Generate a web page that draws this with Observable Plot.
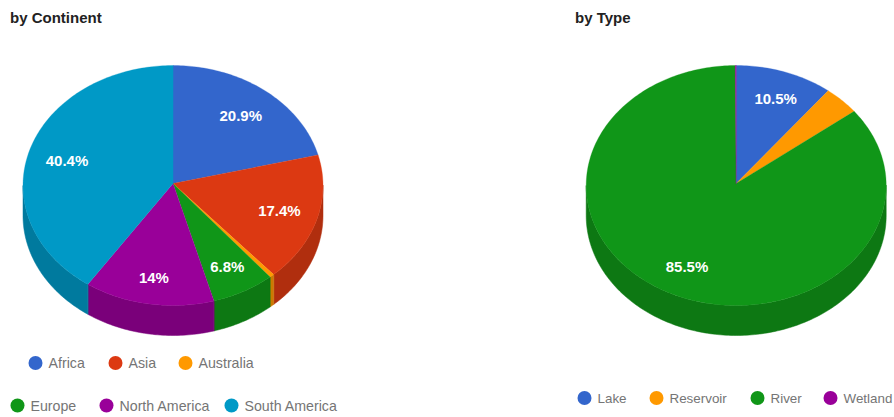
<!DOCTYPE html>
<html>
<head>
<meta charset="utf-8">
<script src="https://cdn.jsdelivr.net/npm/d3@7"></script>
<script src="https://cdn.jsdelivr.net/npm/@observablehq/plot@0.6"></script>
<style>
  html, body { margin: 0; padding: 0; background: #fff; }
  svg { display: block; }
</style>
</head>
<body>
<div id="chart"></div>
<script>
// Share of sites by continent
const continents = ["Africa", "Asia", "Australia", "Europe", "North America", "South America"];
const continentShares = [20.9, 17.4, 0.5, 6.8, 14, 40.4];
const continentColors = ["#3366cc", "#dc3912", "#ff9900", "#109618", "#990099", "#0099c6"];
const continentSides = ["#2952a3", "#b02e0e", "#cc7a00", "#0d7813", "#7a007a", "#007a9e"];
const continentLabels = ["20.9%", "17.4%", "", "6.8%", "14%", "40.4%"];
const continentNudgeX = [0, 0, 0, 2, -1, 0];
const continentNudgeY = [1, 0, 0, 3, 5, 2];

// Share of sites by type
const types = ["Lake", "Reservoir", "River", "Wetland"];
const typeShares = [10.5, 3.9, 85.5, 0.1];
const typeColors = ["#3366cc", "#ff9900", "#109618", "#990099"];
const typeSides = ["#2952a3", "#cc7a00", "#0d7813", "#7a007a"];
const typeLabels = ["10.5%", "", "85.5%", ""];
const typeNudgeX = [3.5, 0, -1, 0];
const typeNudgeY = [-2, 0, 2, 0];

// Legend layout: slot positions for each entry
const continentLegendX = [35, 115, 185, 17, 106, 231];
const continentLegendY = [362.5, 362.5, 362.5, 405, 405, 405];
const typeLegendX = [584, 656, 757, 830];
const typeLegendY = [397.5, 397.5, 397.5, 397.5];

// Pie geometry in the page's coordinate space
const radiusX = 150, radiusY = 120, depth = 30, labelRadius = 0.74, apexLift = 2;
const leftPie = {cx: 172.5, cy: 185};
const rightPie = {cx: 735.7, cy: 185};

const point = (pie, turn, offset = 0) => ({
  x: pie.cx + radiusX * Math.sin(turn * 2 * Math.PI),
  y: pie.cy - radiusY * Math.cos(turn * 2 * Math.PI) + offset
});

// Samples an arc between two fractions of a turn
const arc = (pie, from, to, offset = 0) => {
  const n = Math.max(2, Math.ceil((to - from) * 360));
  return d3.range(n + 1).map((i) => point(pie, from + (to - from) * i / n, offset));
};

function buildPie(pie, names, shares, colors, sides, labels, nudgeX, nudgeY) {
  const total = d3.sum(shares);
  const ends = d3.cumsum(shares).map((v) => v / total);
  const tops = [], walls = [], texts = [];
  names.forEach((name, i) => {
    const from = i ? ends[i - 1] : 0, to = ends[i];
    const key = `${name}-${pie.cx}`;
    [{x: pie.cx, y: pie.cy - apexLift}, ...arc(pie, from, to)].forEach((p) =>
      tops.push({...p, key, color: colors[i]}));
    // The wall shows only along the front half of the disc
    const a = Math.max(from, 0.25), b = Math.min(to, 0.75);
    if (b > a) {
      [...arc(pie, a, b), ...arc(pie, a, b, depth).reverse()].forEach((p) =>
        walls.push({...p, key, color: sides[i]}));
    }
    if (labels[i]) {
      const m = (from + to) / 2;
      texts.push({
        x: pie.cx + labelRadius * radiusX * Math.sin(m * 2 * Math.PI) + nudgeX[i],
        y: pie.cy - labelRadius * radiusY * Math.cos(m * 2 * Math.PI) + nudgeY[i],
        text: labels[i]
      });
    }
  });
  return {tops, walls, texts};
}

const left = buildPie(leftPie, continents, continentShares, continentColors, continentSides, continentLabels, continentNudgeX, continentNudgeY);
const right = buildPie(rightPie, types, typeShares, typeColors, typeSides, typeLabels, typeNudgeX, typeNudgeY);
const tops = [...left.tops, ...right.tops];
const walls = [...left.walls, ...right.walls];
const sliceLabels = [...left.texts, ...right.texts];

const continentLegend = continents.map((name, i) => ({name, x: continentLegendX[i], y: continentLegendY[i], color: continentColors[i]}));
const typeLegend = types.map((name, i) => ({name, x: typeLegendX[i], y: typeLegendY[i], color: typeColors[i]}));
const headings = [
  {x: 9.5, y: 18, text: "by Continent"},
  {x: 574.5, y: 18, text: "by Type"}
];

const chart = Plot.plot({
  width: 894,
  height: 417,
  margin: 0,
  x: {domain: [0, 894], range: [0, 894], axis: null},
  y: {domain: [0, 417], range: [0, 417], axis: null},
  style: {fontFamily: "'Liberation Sans', Arial, sans-serif", background: "#fff"},
  marks: [
    Plot.line(walls, {x: "x", y: "y", z: "key", fill: "color", stroke: "color", strokeWidth: 0.5, curve: "linear-closed"}),
    Plot.line(tops, {x: "x", y: "y", z: "key", fill: "color", stroke: "color", strokeWidth: 0.3, curve: "linear-closed"}),
    Plot.text(sliceLabels, {x: "x", y: "y", text: "text", fill: "#fff", fontSize: 15, fontWeight: "bold"}),
    Plot.text(headings, {x: "x", y: "y", text: "text", fill: "#222", fontSize: 15, fontWeight: "bold", textAnchor: "start"}),
    Plot.dot(continentLegend, {x: "x", y: "y", r: 7, fill: "color", stroke: null}),
    Plot.dot(typeLegend, {x: "x", y: "y", r: 7, fill: "color", stroke: null}),
    Plot.text(continentLegend, {x: "x", y: "y", dx: 13, dy: 0.5, text: "name", fill: "#757575", fontSize: 14.2, textAnchor: "start"}),
    Plot.text(typeLegend, {x: "x", y: "y", dx: 13, dy: 0.5, text: "name", fill: "#757575", fontSize: 13.4, textAnchor: "start"})
  ]
});
document.getElementById("chart").append(chart);
</script>
</body>
</html>
